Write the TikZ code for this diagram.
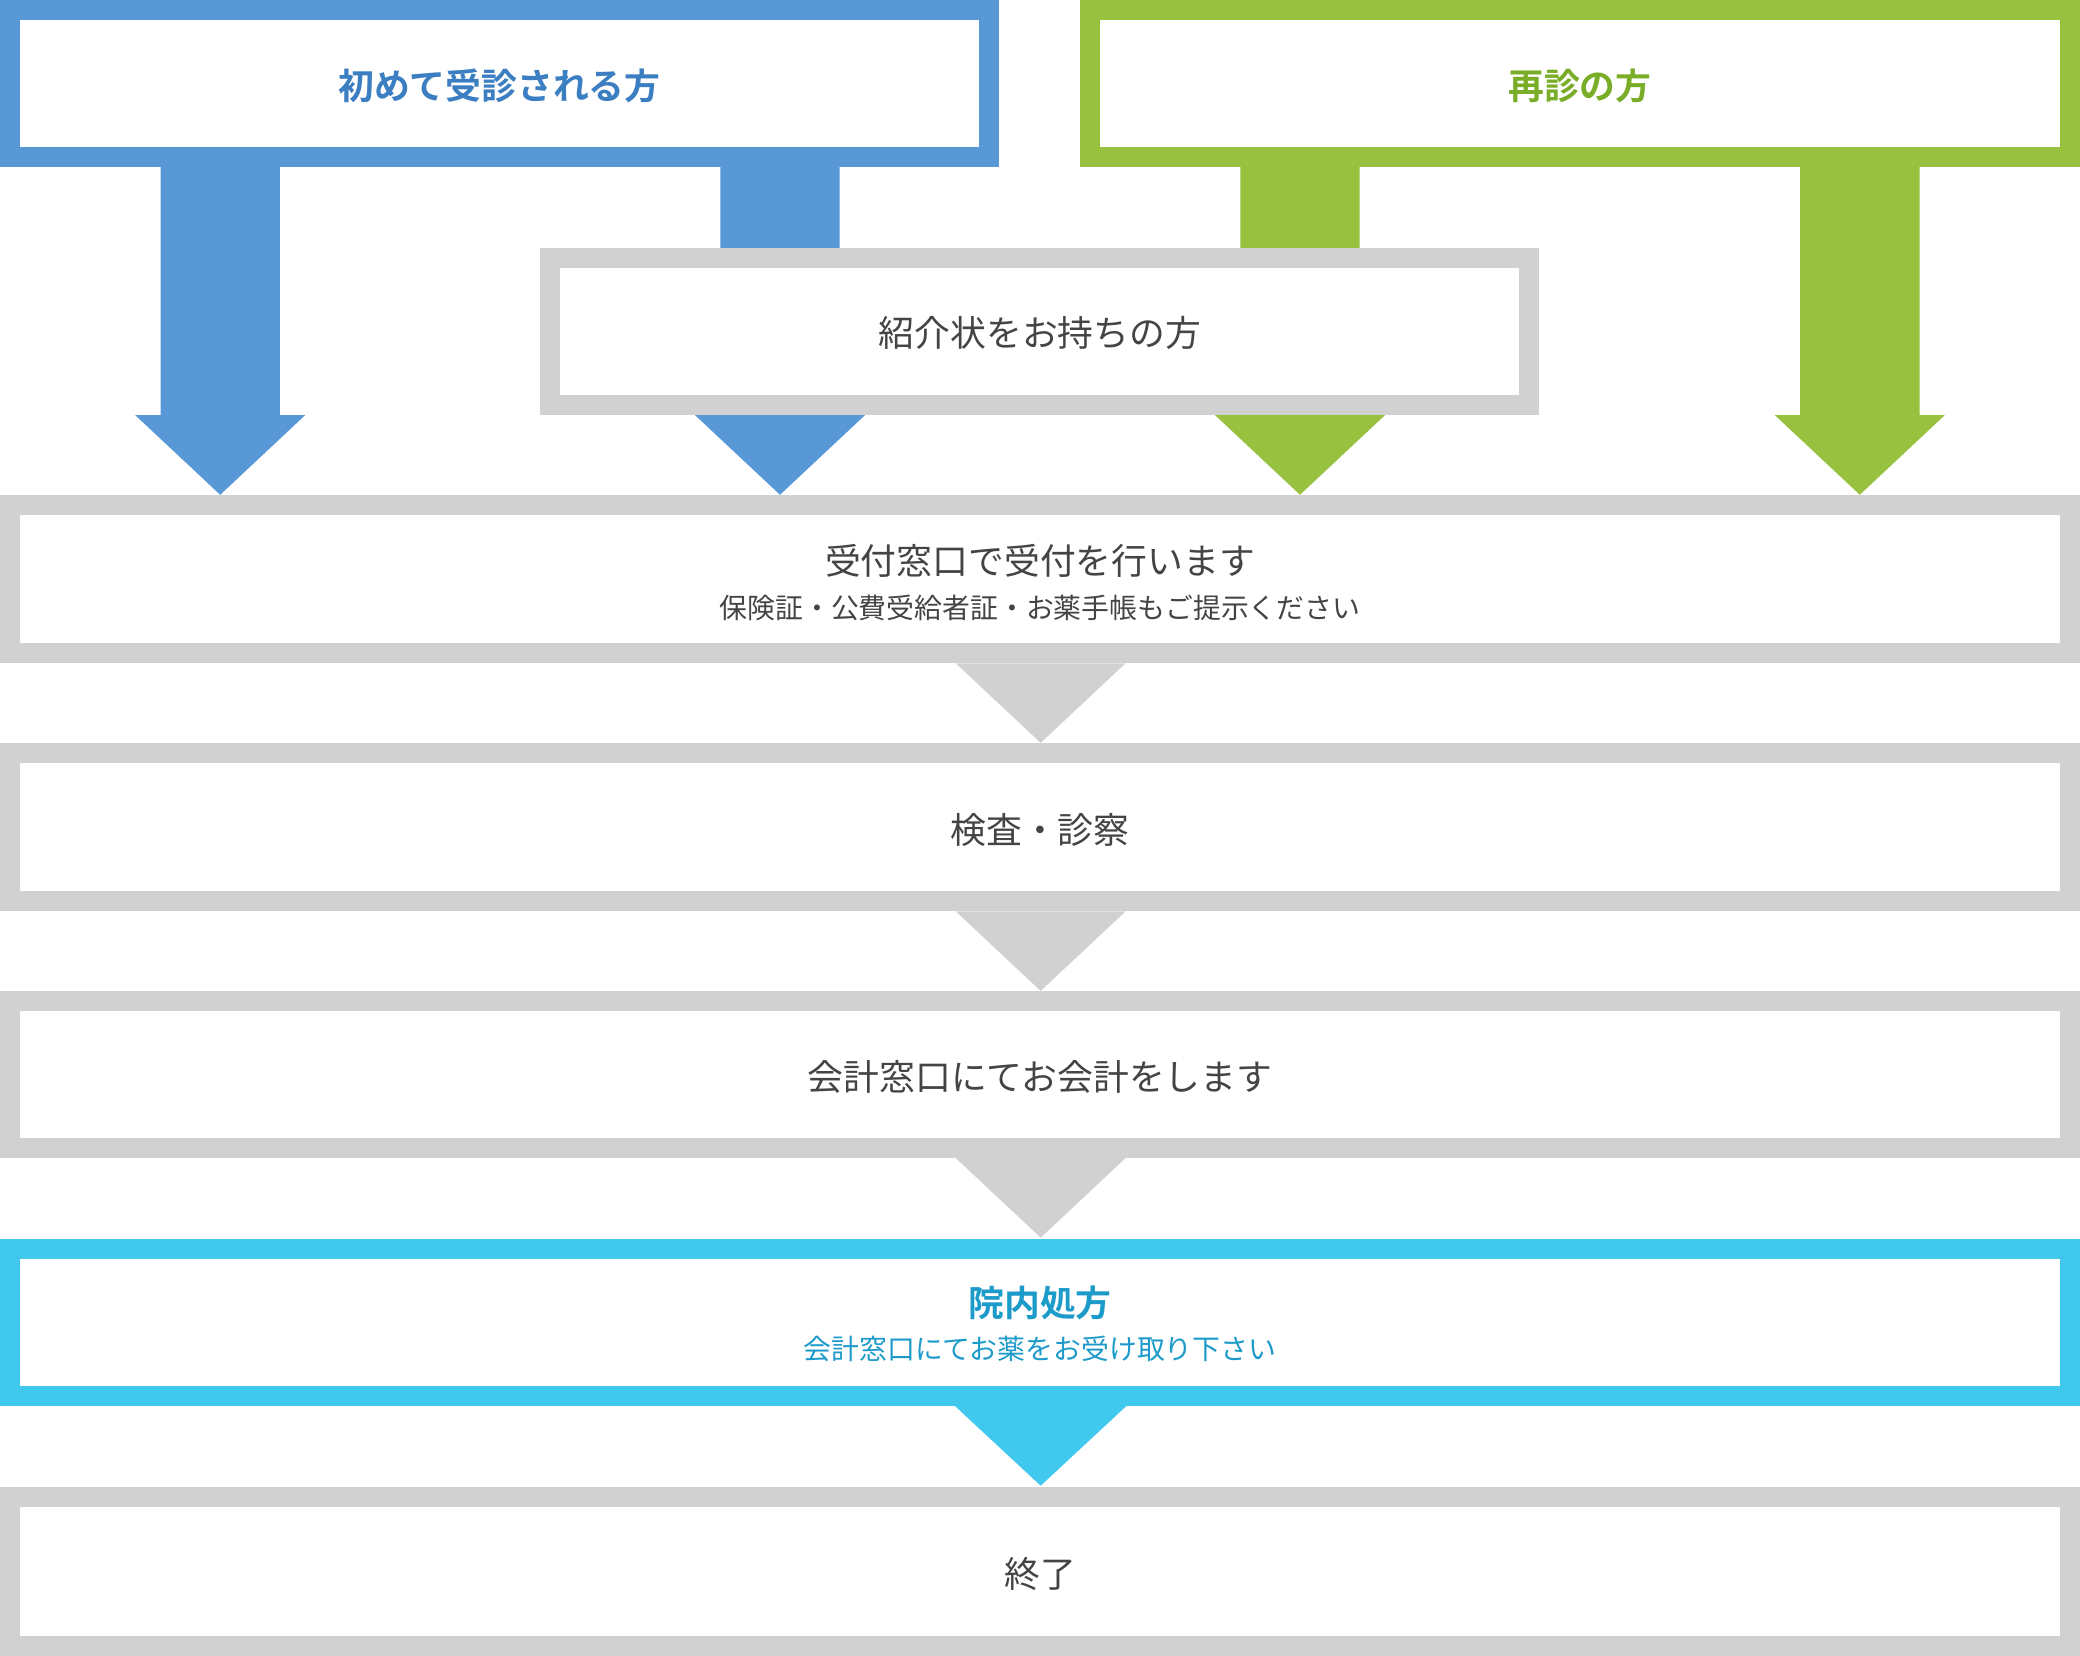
\documentclass[tikz,border=0pt]{standalone}
\usepackage{fontspec}
\setmainfont{Noto Sans CJK JP}
\newfontfamily\jpbold{Noto Sans CJK JP Bold}
\definecolor{cblue}{HTML}{5898D6}
\definecolor{cgreen}{HTML}{97C13F}
\definecolor{cgray}{HTML}{D1D1D1}
\definecolor{ccyan}{HTML}{40C8EF}
\definecolor{tblue}{HTML}{3B7EC1}
\definecolor{tgreen}{HTML}{7AAD27}
\definecolor{tcyan}{HTML}{1C9BCA}
\definecolor{tgray}{HTML}{444444}
\newcommand\bigtxt{\fontsize{27}{32}\selectfont}
\newcommand\smalltxt{\fontsize{21}{25}\selectfont}
\tikzset{
  framebox/.style={draw=#1, line width=15pt, fill=white, inner sep=0pt},
  bodytext/.style={text=tgray, inner sep=0pt, font=\bigtxt},
  subtext/.style={inner sep=0pt, font=\smalltxt},
}
% block arrow: #1 colour, #2 x centre, #3 y top, #4 y head start
\newcommand\blockarrow[4]{%
  \fill[#1] (#2-45,#3) -- (#2+45,#3) -- (#2+45,#4) -- (#2+64,#4) -- (#2,#4+60) -- (#2-64,#4) -- (#2-45,#4) -- cycle;}
\newcommand\headarrow[3]{%
  \fill[#1] (#2-64,#3) -- (#2+64,#3) -- (#2,#3+60) -- cycle;}
\begin{document}
\begin{tikzpicture}[x=1pt,y=-1pt]
\useasboundingbox (0,0) rectangle (1568,1248);
% arrows from top boxes
\blockarrow{cblue}{166}{120}{313}
\blockarrow{cblue}{588}{120}{313}
\blockarrow{cgreen}{980}{120}{313}
\blockarrow{cgreen}{1402}{120}{313}
% top boxes
\node[framebox=cblue, minimum width=738pt, minimum height=111pt] (first) at (376.5,63) {};
\node[font=\jpbold\bigtxt, text=tblue, inner sep=0pt] (firstT) at (376.5,65) {初めて受診される方};
\node[framebox=cgreen, minimum width=739pt, minimum height=111pt] (revisit) at (1191,63) {};
\node[font=\jpbold\bigtxt, text=tgreen, inner sep=0pt] (revisitT) at (1191,65) {再診の方};
% referral box
\node[framebox=cgray, minimum width=738pt, minimum height=111pt] (ref) at (783.5,250) {};
\node[bodytext] (refT) at (784,251) {紹介状をお持ちの方};
% reception
\node[framebox=cgray, minimum width=1553pt, minimum height=112pt] (recv) at (784,436.5) {};
\node[bodytext] (recvT) at (784,423) {受付窓口で受付を行います};
\node[subtext, text=tgray] (recvS) at (784,458) {保険証・公費受給者証・お薬手帳もご提示ください};
\headarrow{cgray}{784.5}{500}
% exam
\node[framebox=cgray, minimum width=1553pt, minimum height=112pt] (exam) at (784,623.5) {};
\node[bodytext] (examT) at (784,625.5) {検査・診察};
\headarrow{cgray}{784.5}{687}
% accounting
\node[framebox=cgray, minimum width=1553pt, minimum height=111pt] (acct) at (784,810) {};
\node[bodytext] (acctT) at (784,812) {会計窓口にてお会計をします};
\headarrow{cgray}{784.5}{873}
% in-house prescription
\node[framebox=ccyan, minimum width=1553pt, minimum height=111pt] (presc) at (784,997) {};
\node[font=\jpbold\bigtxt, text=tcyan, inner sep=0pt] (prescT) at (784,982) {院内処方};
\node[subtext, text=tcyan] (prescS) at (784,1017) {会計窓口にてお薬をお受け取り下さい};
\fill[ccyan] (720,1060) -- (849,1060) -- (784.5,1120) -- cycle;
% end
\node[framebox=cgray, minimum width=1553pt, minimum height=112pt] (fin) at (784,1184.5) {};
\node[bodytext] (finT) at (784,1186.5) {終了};
\end{tikzpicture}
\end{document}
